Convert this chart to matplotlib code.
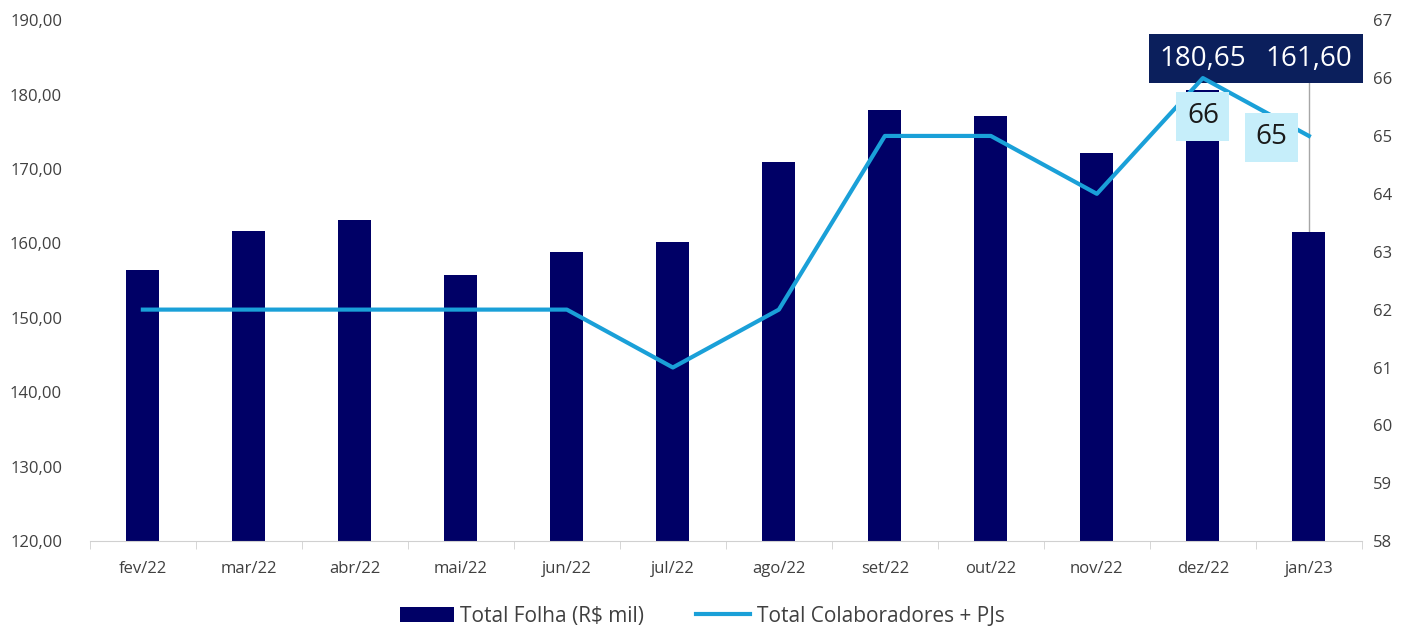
import matplotlib
matplotlib.use("Agg")
import matplotlib.pyplot as plt
from matplotlib.ticker import FuncFormatter
import numpy as np

plt.rcParams['font.family'] = ['Open Sans', 'DejaVu Sans']

months = ["fev/22", "mar/22", "abr/22", "mai/22", "jun/22", "jul/22",
          "ago/22", "set/22", "out/22", "nov/22", "dez/22", "jan/23"]
folha = [156.5, 161.7, 163.1, 155.7, 158.8, 160.2,
         170.9, 177.9, 177.1, 172.2, 180.65, 161.60]
colab = [62, 62, 62, 62, 62, 61, 62, 65, 65, 64, 66, 65]

bar_color = "#000066"
line_color = "#1aa0d8"
text_color = "#404040"

fig = plt.figure(figsize=(14.04, 6.3), dpi=100)
ax = fig.add_axes([0.064, 0.141, 0.906, 0.827])
ax2 = ax.twinx()

x = np.arange(len(months))
ax.bar(x, folha, width=0.31, color=bar_color, label="Total Folha (R$ mil)", zorder=2)
ax2.plot(x, colab, color=line_color, lw=3, label="Total Colaboradores + PJs", zorder=3)

ax.set_xlim(-0.5, len(months) - 0.5)
ax.set_ylim(120, 190)
ax.set_yticks(np.arange(120, 191, 10))
ax.yaxis.set_major_formatter(FuncFormatter(lambda v, p: f"{v:.2f}".replace(".", ",")))
ax2.set_ylim(58, 67)
ax2.set_yticks(np.arange(58, 68, 1))

ax.set_xticks(x)
ax.set_xticklabels(months)
ax.set_xticks(np.arange(-0.5, len(months)), minor=True)
ax.tick_params(axis="x", which="major", length=0, pad=14, labelsize=12, labelcolor=text_color)
ax.tick_params(axis="x", which="minor", length=6, color="#d0d0d0")
ax.tick_params(axis="y", length=0, labelsize=12, labelcolor=text_color, pad=20)
ax2.tick_params(axis="y", length=0, labelsize=12, labelcolor=text_color, pad=8)

for a in (ax, ax2):
    for s in ("top", "left", "right"):
        a.spines[s].set_visible(False)
    a.spines["bottom"].set_color("#d0d0d0")
ax.set_zorder(1)
ax.patch.set_visible(False)
ax2.set_zorder(2)
ax2.spines["bottom"].set_visible(False)

# data labels
i_dez, i_jan = 10, 11
dark_box = dict(boxstyle="square,pad=0.38", fc="#0b1f5c", ec="none")
light_box = dict(boxstyle="square,pad=0.38", fc="#c6eefa", ec="none")
ax.text(i_dez, 184.8, f"{folha[i_dez]:.2f}".replace(".", ","), ha="center", va="center",
        fontsize=20, color="white", bbox=dark_box, zorder=5)
ax.text(i_jan, 184.8, f"{folha[i_jan]:.2f}".replace(".", ","), ha="center", va="center",
        fontsize=20, color="white", bbox=dark_box, zorder=5)
ax.plot([i_jan, i_jan], [folha[i_jan], 182.0], color="#a6a6a6", lw=1, zorder=1)
ax2.text(i_dez, colab[i_dez] - 0.66, str(colab[i_dez]), ha="center", va="center",
         fontsize=20, color="#1a1a1a", bbox=light_box, zorder=5)
ax2.text(i_jan - 0.35, colab[i_jan] - 0.02, str(colab[i_jan]), ha="center", va="center",
         fontsize=20, color="#1a1a1a", bbox=light_box, zorder=5)

h1, l1 = ax.get_legend_handles_labels()
h2, l2 = ax2.get_legend_handles_labels()
fig.legend(h1 + h2, l1 + l2, loc="center", bbox_to_anchor=(0.5, 0.022), ncol=2,
           frameon=False, fontsize=15, handlelength=2.6, handletextpad=0.3,
           columnspacing=2.5, labelcolor=text_color)

fig.savefig("out.png", dpi=100)
